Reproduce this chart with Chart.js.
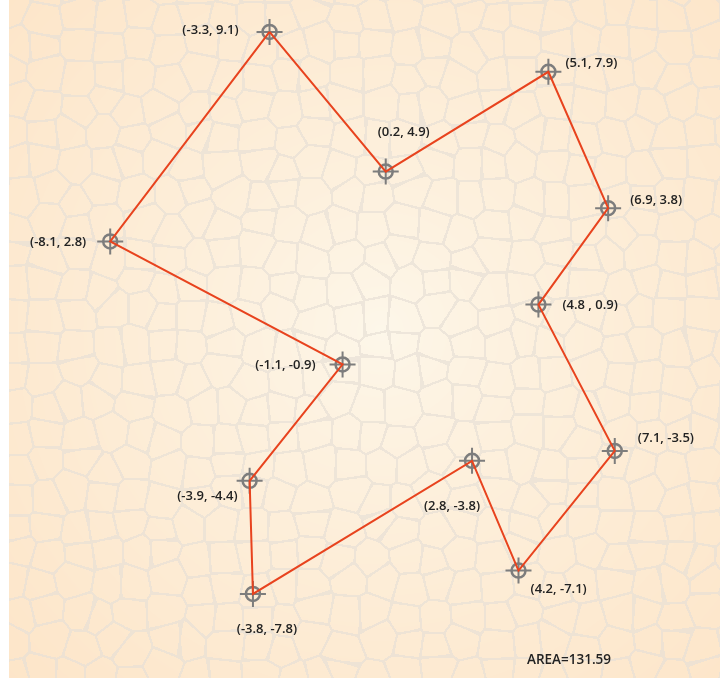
<!DOCTYPE html>
<html>
<head>
<meta charset="utf-8">
<script src="https://cdn.jsdelivr.net/npm/chart.js@4/dist/chart.umd.min.js"></script>
<style>
  body { margin: 0; background: #fff; }
  #wrap { width: 720px; height: 682px; position: relative; }
</style>
</head>
<body>
<div id="wrap"><canvas id="polyChart"></canvas></div>
<script>
// polygon vertices, in drawing order
var xValues = [-3.3, 0.2, 5.1, 6.9, 4.8, 7.1, 4.2, 2.8, -3.8, -3.9, -1.1, -8.1];
var yValues = [9.1, 4.9, 7.9, 3.8, 0.9, -3.5, -7.1, -3.8, -7.8, -4.4, -0.9, 2.8];
var pointLabels = ['(-3.3, 9.1)', '(0.2, 4.9)', '(5.1, 7.9)', '(6.9, 3.8)', '(4.8 , 0.9)', '(7.1, -3.5)',
  '(4.2, -7.1)', '(2.8, -3.8)', '(-3.8, -7.8)', '(-3.9, -4.4)', '(-1.1, -0.9)', '(-8.1, 2.8)'];
var areaText = 'AREA=131.59';

// label placement relative to each marker: [dx, dy, align]
var labelPos = [[-31, -2, 'right'], [18, -39, 'center'], [17, -9, 'left'], [22, -8, 'left'],
  [24, 1, 'left'], [23, -13, 'left'], [12, 19, 'left'], [-20, 45, 'center'],
  [14, 35, 'center'], [-12, 15, 'right'], [-27, 1, 'right'], [-24, 1, 'right']];

var polyData = xValues.map(function(x, i) { return {x: x, y: yValues[i]}; });
polyData.push(polyData[0]);

// cell texture behind the chart (decoration only)
var bgCache = null;
function hash(a, b) {
  var h = Math.sin(a * 127.1 + b * 311.7) * 43758.5453;
  return h - Math.floor(h);
}
function buildBackground(w, h) {
  var c = document.createElement('canvas');
  c.width = w; c.height = h;
  var g = c.getContext('2d');
  var img = g.createImageData(w, h);
  var s = 30, cx = 380, cy = 330, rmax = 520;
  for (var y = 0; y < h; y++) {
    for (var x = 0; x < w; x++) {
      var gx = Math.floor(x / s), gy = Math.floor(y / s);
      var d1 = 1e9, d2 = 1e9;
      for (var j = -2; j <= 2; j++) {
        for (var i = -2; i <= 2; i++) {
          var px = (gx + i + 0.2 + 0.6 * hash(gx + i, gy + j)) * s;
          var py = (gy + j + 0.2 + 0.6 * hash(gy + j + 17, gx + i + 5)) * s;
          var d = (px - x) * (px - x) + (py - y) * (py - y);
          if (d < d1) { d2 = d1; d1 = d; } else if (d < d2) { d2 = d; }
        }
      }
      var t = Math.min(1, Math.sqrt((x - cx) * (x - cx) + (y - cy) * (y - cy)) / rmax);
      t = Math.pow(t, 0.8);
      var r = 253, gg = 247 - 18 * t, b = 234 - 34 * t;
      var edge = Math.sqrt(d2) - Math.sqrt(d1) < 2.2;
      if (edge) { r = r * 0.3 + 232 * 0.7; gg = gg * 0.3 + 224 * 0.7; b = b * 0.3 + 214 * 0.7; }
      var k = (y * w + x) * 4;
      var inside = x >= 9 && y <= 677;
      img.data[k] = inside ? r : 255;
      img.data[k + 1] = inside ? gg : 255;
      img.data[k + 2] = inside ? b : 255;
      img.data[k + 3] = 255;
    }
  }
  g.putImageData(img, 0, 0);
  return c;
}

var decor = {
  id: 'decor',
  beforeDraw: function(chart) {
    var ctx = chart.ctx;
    if (!bgCache) bgCache = buildBackground(chart.width, chart.height);
    ctx.drawImage(bgCache, 0, 0);
  },
  beforeDatasetsDraw: function(chart) {
    var ctx = chart.ctx;
    var meta = chart.getDatasetMeta(0);
    ctx.save();
    ctx.strokeStyle = '#7d7d7d';
    for (var i = 0; i < xValues.length; i++) {
      var p = meta.data[i];
      ctx.lineWidth = 2.5;
      ctx.beginPath();
      ctx.arc(p.x, p.y, 7, 0, Math.PI * 2);
      ctx.stroke();
      ctx.lineWidth = 2;
      ctx.beginPath();
      ctx.moveTo(p.x - 13, p.y); ctx.lineTo(p.x + 13, p.y);
      ctx.moveTo(p.x, p.y - 13); ctx.lineTo(p.x, p.y + 13);
      ctx.stroke();
    }
    ctx.restore();
  },
  afterDatasetsDraw: function(chart) {
    var ctx = chart.ctx;
    var meta = chart.getDatasetMeta(0);
    ctx.save();
    ctx.fillStyle = '#222';
    ctx.font = '600 13px "Open Sans"';
    ctx.textBaseline = 'middle';
    for (var i = 0; i < pointLabels.length; i++) {
      var p = meta.data[i];
      ctx.textAlign = labelPos[i][2];
      ctx.fillText(pointLabels[i], p.x + labelPos[i][0], p.y + labelPos[i][1]);
    }
    ctx.textAlign = 'left';
    ctx.font = '600 13.5px "Open Sans"';
    ctx.fillText(areaText, 527, 660);
    ctx.restore();
  }
};

var ctx = document.getElementById('polyChart').getContext('2d');
new Chart(ctx, {
  type: 'scatter',
  data: {
    datasets: [{
      data: polyData,
      showLine: true,
      borderColor: '#e8431e',
      borderWidth: 2,
      pointRadius: 0,
      pointHoverRadius: 0,
      tension: 0
    }]
  },
  options: {
    responsive: true,
    maintainAspectRatio: false,
    animation: false,
    layout: { padding: 0 },
    plugins: { legend: { display: false }, tooltip: { enabled: false } },
    scales: {
      x: { display: false, min: -11.42, max: 10.27 },
      y: { display: false, min: -10.45, max: 10.06 }
    }
  },
  plugins: [decor]
});
</script>
</body>
</html>
